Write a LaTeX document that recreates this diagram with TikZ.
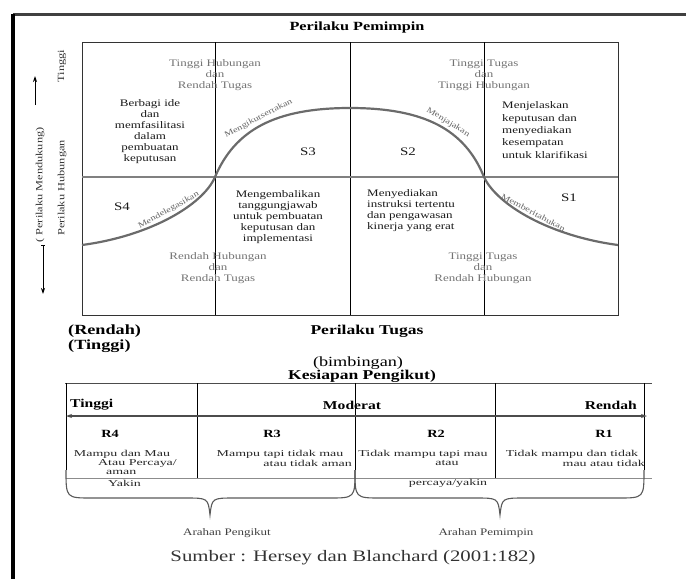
\documentclass[tikz,border=0pt]{standalone}
\usepackage{fontspec}
\setmainfont{Liberation Serif}[FakeStretch=1.3]
\newfontfamily\widefont{Liberation Serif}[FakeStretch=1.55]
\usepackage{tikz}
\usetikzlibrary{arrows.meta}

\begin{document}
\begin{tikzpicture}[x=1pt,y=-1pt]
                \tikzstyle{txt}=[inner sep=0pt,align=center,text=black!90,font=\fontsize{10}{11}\selectfont]
                \tikzstyle{pale}=[txt,text=black!55]
                \tikzstyle{hd}=[inner sep=0pt,font=\fontsize{13.5}{14}\selectfont\bfseries]
                \tikzstyle{rot}=[inner sep=0pt,rotate=90,text=black!80,font=\fontsize{9.5}{9.5}\selectfont]
                \tikzstyle{arc}=[line width=2.2pt,draw=black!58]
                \tikzstyle{arclbl}=[inner sep=0pt,sloped,above=2.5pt,text=black!60,font=\fontsize{8}{8}\selectfont]
                \tikzstyle{cell}=[inner sep=0pt,text=black!85,font=\widefont\fontsize{9}{8.5}\selectfont]
                \tikzstyle{brc}=[line width=1.1pt,black!65]
                \useasboundingbox (0,0) rectangle (686,579);

                % frame
                \draw[line width=3pt,black!75] (13,14) -- (686,14);
                \draw[line width=3.5pt] (13,14) -- (13,579);
                % \draw[black!20] (13,574) -- (686,574);

                \node[hd,font=\fontsize{12.5}{13}\selectfont\bfseries] (judul) at (357,27) {Perilaku Pemimpin};

                \draw[line width=0.9pt,black!80] (82,42) rectangle (618,315);
                \foreach \x in {215,350,484}
                        \draw[line width=0.9pt] (\x,42) -- (\x,315);
                \draw[line width=1.3pt,black!50] (82,177) -- (618,177);

                \node[pale] (TH-RT) at (215,75) {Tinggi Hubungan\\dan\\Rendah Tugas};
                \node[pale] (TT-TH) at (484,75) {Tinggi Tugas\\dan\\Tinggi Hubungan};
                \node[pale] (RH-RT) at (218,268) {Rendah Hubungan\\dan\\Rendah Tugas};
                \node[pale] (TT-RH) at (483,268) {Tinggi Tugas\\dan\\Rendah Hubungan};

                \node[txt] (ket-3) at (150,132) {Berbagi ide\\dan\\memfasilitasi\\dalam\\pembuatan\\keputusan};
                \node[txt,align=left,anchor=west,font=\fontsize{10}{12.3}\selectfont] (ket-1) at (502,130) {Menjelaskan\\keputusan dan\\menyediakan\\kesempatan\\untuk klarifikasi};
                \node[txt,font=\fontsize{10}{11.2}\selectfont] (ket-4) at (278,217) {Mengembalikan\\tanggungjawab\\untuk pembuatan\\keputusan dan\\implementasi};
                \node[txt,align=left,anchor=west] (ket-2) at (367,211) {Menyediakan\\instruksi tertentu\\dan pengawasan\\kinerja yang erat};

                \foreach \num/\x/\y in {1/569/198, 2/408/152, 3/308/152, 4/122/207}
                        \node[txt,font=\fontsize{11.5}{12}\selectfont] (S-\num) at (\x,\y) {S\num};

                \draw[arc] (82,245) .. controls (150,236) and (203,205) .. node[arclbl,pos=0.52] (gaya-4) {Mendelegasikan} (215,177)
                        .. controls (235,130) and (275,108) .. node[arclbl,pos=0.5] (gaya-3) {Mengikutsertakan} (350,108)
                        .. controls (425,108) and (465,130) .. node[arclbl,pos=0.55] (gaya-2) {Menjajakan} (484,177)
                        .. controls (497,205) and (550,236) .. node[arclbl,pos=0.5] (gaya-1) {Memberitahukan} (618,245);

                % left axis
                \node[rot] (tinggi) at (62,66) {Tinggi};
                \node[rot] (mendukung) at (40,185) {( Perilaku Mendukung)};
                \node[rot] (hubungan) at (62,188) {Perilaku Hubungan};
                \coordinate (naik-a) at (35,105);
                \coordinate (naik-b) at (35,76);
                \coordinate (turun-a) at (43,245);
                \coordinate (turun-b) at (43,294);
                \draw[line width=0.9pt,-{Stealth[length=6pt,width=4pt]}] (naik-a) -- (naik-b);
                \draw[line width=0.9pt,{Bar[width=4pt]}-{Stealth[length=6pt,width=4pt]}] (turun-a) -- (turun-b);

                \node[hd,anchor=west,font=\fontsize{14}{14}\selectfont\bfseries] (rendah) at (68,331) {(Rendah)};
                \node[hd,anchor=west,font=\fontsize{14}{14}\selectfont\bfseries] (tinggi-b) at (68,346) {(Tinggi)};
                \node[hd] (tugas) at (367,331) {Perilaku Tugas};
                \node[inner sep=0pt,font=\fontsize{14}{14}\selectfont] (bimbingan) at (358,363) {(bimbingan)};
                \node[hd] (kesiapan) at (362,376) {Kesiapan Pengikut)};

                % table
                \draw[line width=1pt,black!70] (65,383) -- (652,383);
                \foreach \x in {197,495}
                        \draw[line width=0.9pt] (\x,383) -- (\x,478);
                \foreach \x in {66,355,644}
                        \draw[line width=0.9pt] (\x,383) -- (\x,470);
                \draw[line width=1pt,black!45] (66,478) -- (652,478);
                \coordinate (panah-a) at (66,416);
                \coordinate (panah-b) at (647,416);
                \draw[line width=1.1pt,black!70,{Stealth[length=6pt,width=4pt]}-{Stealth[length=6pt,width=4pt]}] (panah-a) -- (panah-b);

                \node[hd,anchor=west,font=\fontsize{12}{12}\selectfont\bfseries] (K-tinggi) at (70,405) {Tinggi};
                \node[hd,font=\fontsize{12}{12}\selectfont\bfseries] (K-moderat) at (352,405) {Moderat};
                \node[hd,anchor=east,font=\fontsize{12}{12}\selectfont\bfseries] (K-rendah) at (637,405) {Rendah};

                \foreach \num/\x in {4/110, 3/272, 2/436, 1/604}
                        \node[hd,font=\fontsize{11}{11}\selectfont\bfseries] (R-\num) at (\x,434) {R\num};

                \node[cell] (R4-a) at (122,454) {Mampu dan Mau};
                \node[cell,anchor=east] (R4-b) at (177,463) {Atau Percaya/};
                \node[cell,anchor=west] (R4-c) at (106,472) {aman};
                \node[cell,anchor=west] (R4-d) at (108,483) {Yakin};
                \node[cell] (R3-a) at (280,454) {Mampu tapi tidak mau};
                \node[cell,anchor=east] (R3-b) at (352,463) {atau tidak aman};
                \node[cell] (R2-a) at (423,454) {Tidak mampu tapi mau};
                \node[cell] (R2-b) at (447,463) {atau};
                \node[cell] (R2-c) at (448,483) {percaya/yakin};
                \node[cell] (R1-a) at (572,454) {Tidak mampu dan tidak};
                \node[cell,anchor=east] (R1-b) at (645,463) {mau atau tidak};

                \draw[brc] (66,470) .. controls (66,498) .. (92,498) -- (185,498) .. controls (208,498) .. (210,515)
                        .. controls (212,498) .. (235,498) -- (329,498) .. controls (355,498) .. (355,470);
                \draw[brc] (355,470) .. controls (355,498) .. (381,498) -- (475,498) .. controls (498,498) .. (500,515)
                        .. controls (502,498) .. (525,498) -- (618,498) .. controls (644,498) .. (644,470);

                \node[txt,text=black!75] (arahan-p) at (227,533) {Arahan Pengikut};
                \node[txt,text=black!75] (arahan-m) at (486,533) {Arahan Pemimpin};
                \node[inner sep=0pt,text=black!80,font=\fontsize{16}{16}\selectfont] (sumber) at (353,558) {Sumber : Hersey dan Blanchard (2001:182)};
            \end{tikzpicture}
\end{document}
